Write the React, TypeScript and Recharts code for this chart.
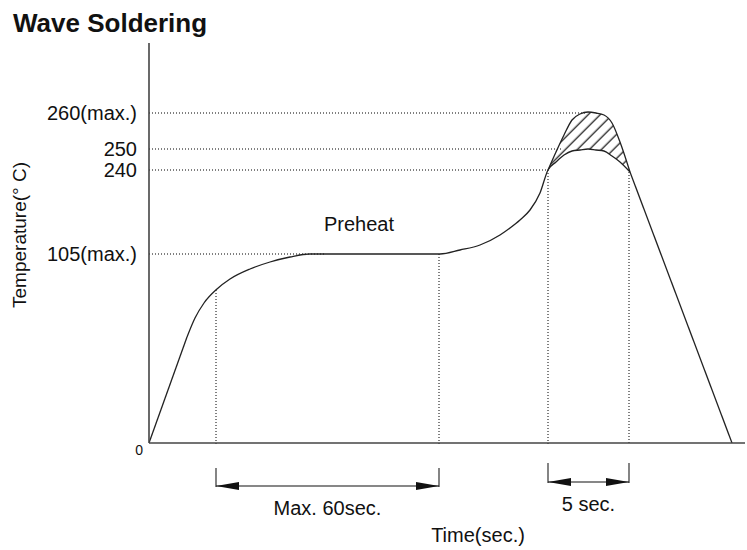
import { ComposedChart, Line, Area, XAxis, YAxis, ReferenceLine } from "recharts";

// Schematic profile in drawing units: x = time, y = temperature level
const PROFILE_X = [0, 38, 46, 55, 68, 81, 101, 121, 141, 161, 291, 311, 331, 351, 361, 371, 381, 391, 399, 407, 415, 423, 431, 439, 447, 455, 463, 471, 481, 583];
const PROFILE_Y = [0, 106, 125, 140, 154, 164, 174, 181, 186, 189, 189, 193, 198, 208, 215, 223, 233, 250, 273, 281, 288, 292, 293, 294, 293, 292, 287, 281, 271, 0];
// 260(max.) branch of the peak, only defined over the wave
const PEAK_Y: (number | null)[] = [null, null, null, null, null, null, null, null, null, null, null, null, null, null, null, null, null, null, 273, 291, 308, 323, 329, 331, 330, 328, 320, 301, 271, null];

// straight ramp up / straight cool-down ends of the profile
const RAMP_END = 38;
const COOL_START = 481;

const LEVEL_TICKS = [0, 189, 273, 294, 330];
const LEVEL_LABELS = ["0", "105(max.)", "240", "250", "260(max.)"];
const GUIDE_H_END = [0, 176, 399, 413, 436];

const GUIDE_V_X = [67, 290, 399, 480];
const GUIDE_V_TOP = [153, 189, 273, 271];

const SPAN_FROM = [67, 399];
const SPAN_TO = [290, 480];
const SPAN_TEXT = ["Max. 60sec.", "5 sec."];
const SPAN_LINE_Y = [-43, -39];
const SPAN_TICK_TOP = [-25, -20];
const SPAN_TICK_BOTTOM = [-44, -40];

const data = PROFILE_X.map((x, i) => ({
  x,
  rise: x <= RAMP_END ? PROFILE_Y[i] : null,
  y: x >= RAMP_END && x <= COOL_START ? PROFILE_Y[i] : null,
  fall: x >= COOL_START ? PROFILE_Y[i] : null,
  peak: PEAK_Y[i],
  band: PEAK_Y[i] == null ? null : [PROFILE_Y[i], PEAK_Y[i]],
}));

const FONT = '"Liberation Sans", Arial, Helvetica, sans-serif';

function LevelTick({ x, y, payload }: any) {
  const i = LEVEL_TICKS.indexOf(payload.value);
  if (i === 0) {
    return (
      <text x={x + 6} y={y + 12} textAnchor="end" fontSize={14} fill="#111" fontFamily={FONT}>
        {LEVEL_LABELS[i]}
      </text>
    );
  }
  return (
    <text x={x} y={y + 7} textAnchor="end" fontSize={20} fill="#111" fontFamily={FONT}>
      {LEVEL_LABELS[i]}
    </text>
  );
}

function spanArrow(text: string) {
  return (props: any) => {
    const { x1, y1, x2 } = props;
    const left = Math.min(x1, x2);
    const right = Math.max(x1, x2);
    const head = 23;
    const half = 4;
    return (
      <g>
        <line x1={left} y1={y1} x2={right} y2={y1} stroke="#111" strokeWidth={1.2} />
        <polygon points={`${left},${y1} ${left + head},${y1 - half} ${left + head},${y1 + half}`} fill="#111" />
        <polygon points={`${right},${y1} ${right - head},${y1 - half} ${right - head},${y1 + half}`} fill="#111" />
        <text x={(left + right) / 2} y={y1 + 29} textAnchor="middle" fontSize={20} fill="#111" fontFamily={FONT}>
          {text}
        </text>
      </g>
    );
  };
}

const lineProps = {
  stroke: "#222",
  strokeWidth: 1.3,
  dot: false,
  activeDot: false,
  isAnimationActive: false,
} as const;

export default function App() {
  return (
    <div style={{ position: "absolute", left: 0, top: 0, width: 747, height: 550, background: "#fff" }}>
      <ComposedChart
        width={747}
        height={550}
        data={data}
        margin={{ top: 43, right: 2, bottom: 106, left: 148 }}
      >
        <defs>
          <pattern id="hatch" patternUnits="userSpaceOnUse" width={8.5} height={8.5} patternTransform="rotate(45)">
            <line x1={4} y1={0} x2={4} y2={8.5} stroke="#111" strokeWidth={1.2} />
          </pattern>
        </defs>
        <XAxis
          dataKey="x"
          type="number"
          domain={[0, 596]}
          allowDataOverflow
          tick={false}
          tickLine={false}
          height={1}
          axisLine={{ stroke: "#444", strokeWidth: 1.6 }}
        />
        <YAxis
          type="number"
          domain={[0, 400]}
          allowDataOverflow
          ticks={LEVEL_TICKS}
          interval={0}
          width={1}
          tickSize={0}
          tickMargin={12}
          tickLine={false}
          tick={<LevelTick />}
          axisLine={{ stroke: "#444", strokeWidth: 1.6 }}
        />

        {LEVEL_TICKS.slice(1).map((lv, i) => (
          <ReferenceLine
            key={`h${lv}`}
            segment={[{ x: 0, y: lv }, { x: GUIDE_H_END[i + 1], y: lv }]}
            stroke="#000"
            strokeDasharray="1 2"
            ifOverflow="visible"
          />
        ))}
        {GUIDE_V_X.map((gx, i) => (
          <ReferenceLine
            key={`v${gx}`}
            segment={[{ x: gx, y: GUIDE_V_TOP[i] }, { x: gx, y: -2 }]}
            stroke="#000"
            strokeDasharray="1 2"
            ifOverflow="visible"
          />
        ))}

        {SPAN_FROM.map((from, i) => [
          <ReferenceLine
            key={`ta${i}`}
            segment={[{ x: from, y: SPAN_TICK_TOP[i] }, { x: from, y: SPAN_TICK_BOTTOM[i] }]}
            stroke="#333"
            strokeWidth={1.2}
            ifOverflow="visible"
          />,
          <ReferenceLine
            key={`tb${i}`}
            segment={[{ x: SPAN_TO[i], y: SPAN_TICK_TOP[i] }, { x: SPAN_TO[i], y: SPAN_TICK_BOTTOM[i] }]}
            stroke="#333"
            strokeWidth={1.2}
            ifOverflow="visible"
          />,
          <ReferenceLine
            key={`s${i}`}
            segment={[{ x: from, y: SPAN_LINE_Y[i] }, { x: SPAN_TO[i], y: SPAN_LINE_Y[i] }]}
            ifOverflow="visible"
            shape={spanArrow(SPAN_TEXT[i])}
          />,
        ])}

        <Area
          dataKey="band"
          type="monotone"
          fill="url(#hatch)"
          fillOpacity={1}
          stroke="none"
          isAnimationActive={false}
          activeDot={false}
        />
        <Line dataKey="peak" type="monotone" {...lineProps} />
        <Line dataKey="rise" type="linear" {...lineProps} />
        <Line dataKey="y" type="monotone" {...lineProps} />
        <Line dataKey="fall" type="linear" {...lineProps} />
      </ComposedChart>

      <svg
        width={747}
        height={550}
        style={{ position: "absolute", left: 0, top: 0, pointerEvents: "none" }}
        fontFamily={FONT}
        fill="#111"
      >
        <text x={13} y={32} fontSize={26} fontWeight="bold">Wave Soldering</text>
        <text x={0} y={0} fontSize={19} textAnchor="middle" transform="translate(26 235) rotate(-90)">
          Temperature(° C)
        </text>
        <text x={359} y={231} fontSize={20} textAnchor="middle">Preheat</text>
        <text x={478} y={542} fontSize={20} textAnchor="middle">Time(sec.)</text>
      </svg>
    </div>
  );
}
